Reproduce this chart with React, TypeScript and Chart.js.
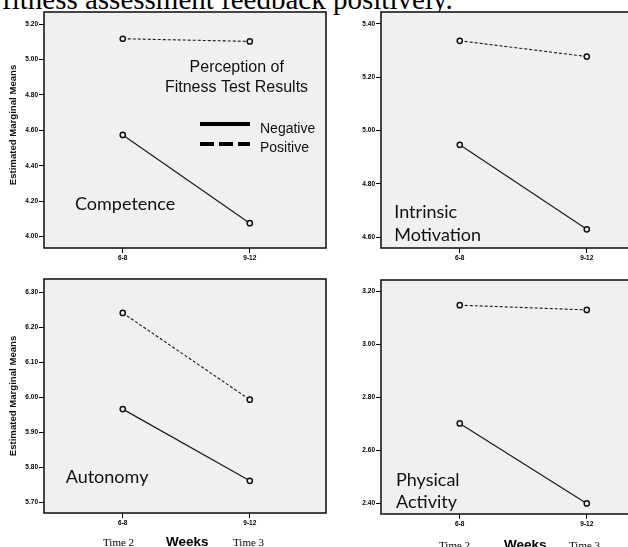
import React, { useEffect, useRef } from 'react';
import { Chart, registerables } from 'chart.js';

Chart.register(...registerables);

// ---- data ----
const weeks = ['6-8', '9-12'];

const competenceNegative = [4.574, 4.076];
const competencePositive = [5.117, 5.102];
const intrinsicNegative = [4.946, 4.629];
const intrinsicPositive = [5.336, 5.277];
const autonomyNegative = [5.966, 5.761];
const autonomyPositive = [6.241, 5.993];
const activityNegative = [2.702, 2.4];
const activityPositive = [3.149, 3.131];

const competenceTicks = [4.0, 4.2, 4.4, 4.6, 4.8, 5.0, 5.2];
const intrinsicTicks = [4.6, 4.8, 5.0, 5.2, 5.4];
const autonomyTicks = [5.7, 5.8, 5.9, 6.0, 6.1, 6.2, 6.3];
const activityTicks = [2.4, 2.6, 2.8, 3.0, 3.2];

const SANS = '"Liberation Sans", Arial, Helvetica, sans-serif';
const SERIF = '"Liberation Serif", "Times New Roman", serif';
const CAL = 'Lato, "Open Sans", sans-serif';

type Note =
  | { kind: 'text'; text: string; x: number; y: number; font: string; align?: CanvasTextAlign; rotate?: boolean }
  | { kind: 'line'; x1: number; x2: number; y: number; width: number; dash?: number[] };

type PanelCfg = {
  left: number;
  top: number;
  width: number;
  height: number;
  area: { l: number; t: number; r: number; b: number };
  neg: number[];
  pos: number[];
  ticks: number[];
  yMin: number;
  yMax: number;
  notes: Note[];
};

const decoPlugin = (notes: Note[]) => ({
  id: 'deco',
  beforeDraw(chart: any) {
    const { ctx, chartArea: a } = chart;
    ctx.save();
    ctx.fillStyle = '#f0f0f0';
    ctx.fillRect(a.left, a.top, a.right - a.left, a.bottom - a.top);
    ctx.restore();
  },
  afterDraw(chart: any) {
    const { ctx, chartArea: a } = chart;
    ctx.save();
    ctx.strokeStyle = '#1a1a1a';
    ctx.lineWidth = 1.6;
    ctx.strokeRect(a.left, a.top, a.right - a.left, a.bottom - a.top);
    for (const n of notes) {
      if (n.kind === 'text') {
        ctx.save();
        ctx.font = n.font;
        ctx.fillStyle = '#111';
        ctx.textAlign = n.align || 'left';
        ctx.textBaseline = n.rotate ? 'middle' : 'alphabetic';
        if (n.rotate) {
          ctx.translate(n.x, n.y);
          ctx.rotate(-Math.PI / 2);
          ctx.fillText(n.text, 0, 0);
        } else {
          ctx.fillText(n.text, n.x, n.y);
        }
        ctx.restore();
      } else {
        ctx.beginPath();
        ctx.strokeStyle = '#000';
        ctx.lineWidth = n.width;
        ctx.setLineDash(n.dash || []);
        ctx.moveTo(n.x1, n.y);
        ctx.lineTo(n.x2, n.y);
        ctx.stroke();
        ctx.setLineDash([]);
      }
    }
    ctx.restore();
  },
});

const tickFont = { family: SANS, size: 6.5, weight: 'bold' as const };

function Panel({ cfg }: { cfg: PanelCfg }) {
  const ref = useRef<HTMLCanvasElement>(null);
  useEffect(() => {
    const c = cfg;
    const toPts = (arr: number[]) => arr.map((v, i) => ({ x: i, y: v }));
    const chart = new Chart(ref.current as HTMLCanvasElement, {
      type: 'line',
      data: {
        datasets: [
          {
            label: 'Negative',
            data: toPts(c.neg),
            borderColor: '#1a1a1a',
            borderWidth: 1.2,
            pointRadius: 2.6,
            pointBorderWidth: 1.5,
            pointBackgroundColor: '#f0f0f0',
            pointBorderColor: '#111',
            fill: false,
            tension: 0,
          },
          {
            label: 'Positive',
            data: toPts(c.pos),
            borderColor: '#1a1a1a',
            borderWidth: 1.1,
            borderDash: [3, 2],
            pointRadius: 2.6,
            pointBorderWidth: 1.5,
            pointBackgroundColor: '#f0f0f0',
            pointBorderColor: '#111',
            fill: false,
            tension: 0,
          },
        ],
      },
      options: {
        responsive: false,
        animation: false,
        events: [],
        layout: { padding: { left: 0, top: c.area.t, right: c.width - c.area.r, bottom: 0 } },
        plugins: { legend: { display: false }, tooltip: { enabled: false } },
        scales: {
          x: {
            type: 'linear',
            min: -0.62,
            max: 1.6,
            afterBuildTicks: (s: any) => {
              s.ticks = weeks.map((_, i) => ({ value: i }));
            },
            afterFit: (s: any) => {
              s.height = c.height - c.area.b;
            },
            ticks: {
              callback: (v: any) => weeks[v] ?? '',
              font: tickFont,
              color: '#000',
              padding: 1,
              maxRotation: 0,
              autoSkip: false,
            },
            grid: { display: true, drawOnChartArea: false, drawTicks: true, tickLength: 5, color: '#000', lineWidth: 1 },
            border: { display: false },
          },
          y: {
            type: 'linear',
            min: c.yMin,
            max: c.yMax,
            afterBuildTicks: (s: any) => {
              s.ticks = c.ticks.map((v) => ({ value: v }));
            },
            afterFit: (s: any) => {
              s.width = c.area.l;
            },
            ticks: {
              callback: (v: any) => Number(v).toFixed(2),
              font: tickFont,
              color: '#000',
              padding: 1,
              autoSkip: false,
            },
            grid: { display: true, drawOnChartArea: false, drawTicks: true, tickLength: 5, color: '#000', lineWidth: 1 },
            border: { display: false },
          },
        },
      } as any,
      plugins: [decoPlugin(c.notes)],
    });
    return () => chart.destroy();
  }, [cfg]);
  return (
    <canvas
      ref={ref}
      width={cfg.width}
      height={cfg.height}
      style={{ position: 'absolute', left: cfg.left, top: cfg.top, width: cfg.width, height: cfg.height }}
    />
  );
}

const Y_TITLE = 'Estimated Marginal Means';
const titleFont = `bold 9.6px ${SANS}`;

const panels: PanelCfg[] = [
  {
    left: 0, top: 0, width: 335, height: 270,
    area: { l: 44, t: 12, r: 326, b: 248 },
    neg: competenceNegative, pos: competencePositive, ticks: competenceTicks,
    yMin: 3.936, yMax: 5.268,
    notes: [
      { kind: 'text', text: Y_TITLE, x: 13.5, y: 125, font: titleFont, align: 'center', rotate: true },
      { kind: 'text', text: 'Perception of', x: 236.7, y: 71.5, font: `16px ${SANS}`, align: 'center' },
      { kind: 'text', text: 'Fitness Test Results', x: 236.5, y: 91.5, font: `16px ${SANS}`, align: 'center' },
      { kind: 'line', x1: 200, x2: 250, y: 124, width: 4 },
      { kind: 'text', text: 'Negative', x: 260, y: 132.5, font: `14px ${SANS}` },
      { kind: 'line', x1: 200, x2: 250, y: 144, width: 4, dash: [14, 5] },
      { kind: 'text', text: 'Positive', x: 260, y: 152, font: `14px ${SANS}` },
      { kind: 'text', text: 'Competence', x: 75, y: 210, font: `18px ${CAL}` },
    ],
  },
  {
    left: 335, top: 0, width: 340, height: 270,
    area: { l: 46, t: 12, r: 328, b: 248 },
    neg: intrinsicNegative, pos: intrinsicPositive, ticks: intrinsicTicks,
    yMin: 4.559, yMax: 5.444,
    notes: [
      { kind: 'text', text: 'Intrinsic', x: 59.3, y: 218.3, font: `18px ${CAL}` },
      { kind: 'text', text: 'Motivation', x: 59.3, y: 240.5, font: `18px ${CAL}` },
    ],
  },
  {
    left: 0, top: 270, width: 335, height: 277,
    area: { l: 44, t: 9, r: 326, b: 243 },
    neg: autonomyNegative, pos: autonomyPositive, ticks: autonomyTicks,
    yMin: 5.669, yMax: 6.338,
    notes: [
      { kind: 'text', text: Y_TITLE, x: 13.5, y: 126, font: titleFont, align: 'center', rotate: true },
      { kind: 'text', text: 'Autonomy', x: 65.7, y: 212.7, font: `18px ${CAL}` },
    ],
  },
  {
    left: 335, top: 270, width: 340, height: 277,
    area: { l: 46, t: 10, r: 328, b: 244 },
    neg: activityNegative, pos: activityPositive, ticks: activityTicks,
    yMin: 2.36, yMax: 3.244,
    notes: [
      { kind: 'text', text: 'Physical', x: 61, y: 216, font: `18px ${CAL}` },
      { kind: 'text', text: 'Activity', x: 61, y: 238.3, font: `18px ${CAL}` },
    ],
  },
];

function DocText(props: {
  text: string; x: number; baseline: number; size: number; family: string;
  weight?: string; asc: number; desc: number;
}) {
  const { text, x, baseline, size, family, weight, asc, desc } = props;
  return (
    <div
      style={{
        position: 'absolute',
        left: x,
        top: baseline - asc * size,
        fontSize: size,
        lineHeight: `${(asc + desc) * size}px`,
        fontFamily: family,
        fontWeight: (weight as any) || 'normal',
        whiteSpace: 'nowrap',
        color: '#000',
      }}
    >
      {text}
    </div>
  );
}

const serifM = { asc: 0.891, desc: 0.216 };
const sansM = { asc: 0.905, desc: 0.212 };

export default function App() {
  return (
    <div
      style={{
        position: 'fixed',
        left: 0,
        top: 0,
        width: 628,
        height: 547,
        overflow: 'hidden',
        background: '#fff',
      }}
    >
      <DocText text="fitness assessment feedback positively." x={2} baseline={8.5} size={29} family={SERIF} {...serifM} />
      {panels.map((p, i) => (
        <Panel key={i} cfg={p} />
      ))}
      <DocText text="Time 2" x={103} baseline={545.7} size={11} family={SERIF} {...serifM} />
      <DocText text="Weeks" x={166} baseline={546.5} size={13.5} family={SANS} weight="bold" {...sansM} />
      <DocText text="Time 3" x={233} baseline={545.7} size={11} family={SERIF} {...serifM} />
      <DocText text="Time 2" x={439} baseline={549} size={11} family={SERIF} {...serifM} />
      <DocText text="Weeks" x={504} baseline={549.5} size={13.5} family={SANS} weight="bold" {...sansM} />
      <DocText text="Time 3" x={569} baseline={549} size={11} family={SERIF} {...serifM} />
    </div>
  );
}
